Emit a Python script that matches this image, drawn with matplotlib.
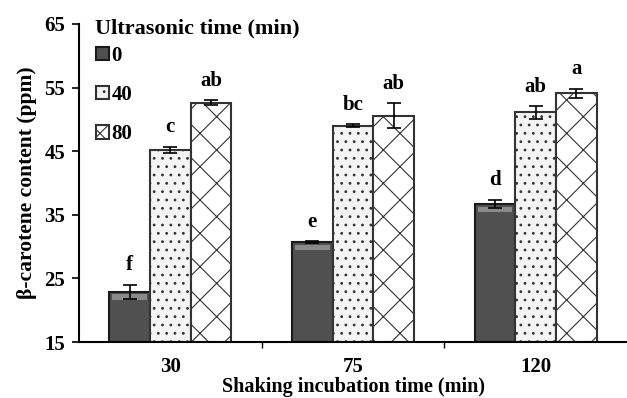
import numpy as np
import matplotlib
matplotlib.use('Agg')
from matplotlib import pyplot as plt

plt.rcParams['font.family'] = ['Liberation Serif', 'DejaVu Serif']
plt.rcParams['font.weight'] = 'bold'
plt.rcParams['hatch.linewidth'] = 0.8

# shaking incubation time (min) on x, ultrasonic time (min) as series
groups = ['30', '75', '120']
series = ['0', '40', '80']
vals_0 = [22.9, 30.7, 36.7]
vals_40 = [45.2, 49.0, 51.1]
vals_80 = [52.6, 50.6, 54.1]
err_0 = [1.1, 0.15, 0.7]
err_40 = [0.5, 0.2, 1.0]
err_80 = [0.4, 1.9, 0.7]
letters_0 = ['f', 'e', 'd']
letters_40 = ['c', 'bc', 'ab']
letters_80 = ['ab', 'ab', 'a']

fig = plt.figure(figsize=(6.27, 3.98), dpi=100)
ax = fig.add_axes([79 / 627, 1 - 342 / 398, (627 - 79) / 627, 318 / 398])

x = np.arange(len(groups))
w = 0.223
styles = [
    dict(color='#505050', edgecolor='#1a1a1a', hatch=None),
    dict(color='#f4f4f4', edgecolor='#333333', hatch='..'),
    dict(color='white', edgecolor='#333333', hatch='x'),
]
all_vals = [vals_0, vals_40, vals_80]
all_errs = [err_0, err_40, err_80]
all_letters = [letters_0, letters_40, letters_80]

handles = []
for i in range(3):
    st = styles[i]
    pos = x + (i - 1) * w
    b = ax.bar(pos, np.array(all_vals[i]) - 15, w, bottom=15, color=st['color'],
               edgecolor=st['edgecolor'], hatch=st['hatch'], linewidth=1.5,
               label=series[i], zorder=2)
    handles.append(b)
    ax.errorbar(pos, all_vals[i], yerr=all_errs[i], fmt='none', ecolor='black',
                elinewidth=1.2, capsize=5, capthick=1.2, zorder=3)
    for p, v, e, t in zip(pos, all_vals[i], all_errs[i], all_letters[i]):
        ax.text(p, v + e + 1.5, t, ha='center', va='bottom', fontsize=15,
                fontweight='bold')
    if i == 0:
        # light bevel strip on top of dark bars
        for p, v in zip(pos, all_vals[i]):
            ax.bar(p, 0.9, w * 0.85, bottom=v - 1.3, color='#8a8a8a', linewidth=0,
                   zorder=2.5)

ax.set_ylim(15, 65)
ax.set_yticks([15, 25, 35, 45, 55, 65])
ax.set_xlim(-0.5, 2.5)
ax.set_xticks(x)
ax.set_xticklabels(groups)
ax.set_xticks([0.5, 1.5], minor=True)
ax.tick_params(axis='x', which='major', length=0, pad=11, labelsize=15)
ax.tick_params(axis='x', which='minor', length=4, width=1)
ax.tick_params(axis='y', length=5, width=1.2, labelsize=15, pad=5)
for s in ['top', 'right']:
    ax.spines[s].set_visible(False)
ax.spines['left'].set_linewidth(1.5)
ax.spines['bottom'].set_linewidth(1.5)

ax.set_ylabel('β-carotene content (ppm)', fontsize=15.5, fontweight='bold', labelpad=5)
ax.set_xlabel('Shaking incubation time (min)', fontsize=14.5, fontweight='bold', labelpad=0)

fig.text(95 / 627, 1 - 28 / 398, 'Ultrasonic time (min)', ha='left', va='center',
         fontsize=16, fontweight='bold')
leg = fig.legend(handles=handles, loc='upper left',
                 bbox_to_anchor=(96 / 627, 1 - 46 / 398), frameon=False, fontsize=15,
                 labelspacing=0.92, handlelength=0.6, handleheight=0.6,
                 handletextpad=0.15, borderpad=0, borderaxespad=0)
for t in leg.get_texts():
    t.set_fontweight('bold')

plt.savefig('out.png', dpi=100)
